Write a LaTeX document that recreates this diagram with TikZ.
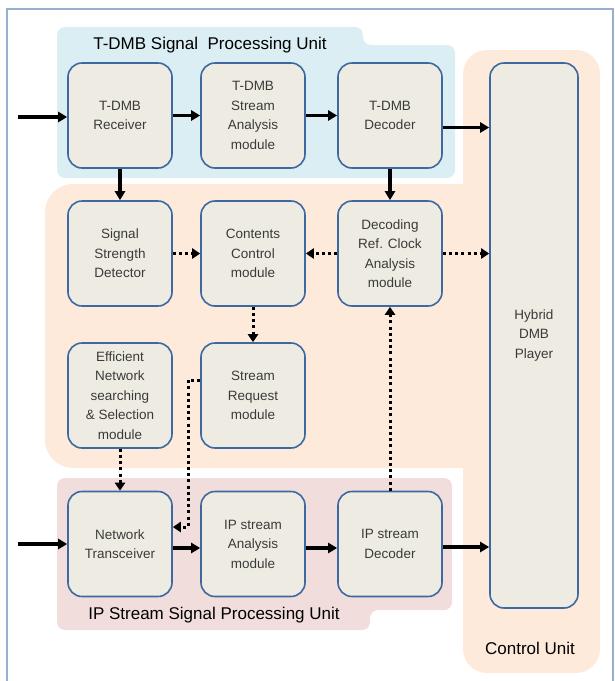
\documentclass[tikz,border=0pt]{standalone}
\usepackage{fontspec}
\setmainfont{Liberation Sans}
\usetikzlibrary{arrows.meta}
\definecolor{tdmbblue}{RGB}{218,238,244}
\definecolor{ctrlorange}{RGB}{253,234,219}
\definecolor{ippink}{RGB}{242,221,221}
\definecolor{modfill}{RGB}{238,236,226}
\definecolor{modedge}{RGB}{62,104,160}
\definecolor{framecol}{RGB}{150,176,206}
\definecolor{modtext}{RGB}{58,58,58}

\begin{document}
\begin{tikzpicture}[
  x=1pt, y=-1pt,
  every node/.style={font=\fontsize{13.5}{19.5}\selectfont},
  module/.style={rectangle, rounded corners=14pt, fill=modfill, draw=modedge,
    line width=1.6pt, minimum width=104pt, minimum height=105pt,
    inner sep=1pt, align=center, text=modtext},
  unittitle/.style={font=\fontsize{17}{20}\selectfont, text=black},
  sigflow/.style={-{Triangle[length=9pt,width=10pt]}, line width=3.2pt, black},
  ctlflow/.style={-{Triangle[length=8pt,width=10pt]}, line width=3pt, black,
    dash pattern=on 3pt off 3.2pt}
]
\useasboundingbox (0,0) rectangle (615,681);

% Unit backgrounds.
\fill[ctrlorange, rounded corners=24pt] (463,50) rectangle (600,673);
\fill[ctrlorange, rounded corners=28pt]
  (45,184) -- (490,184) -- (490,468) -- (45,468) -- cycle;
\fill[tdmbblue, rounded corners=8pt]
  (57,27) -- (363,27) -- (363,45) -- (455,45) -- (455,178) -- (57,178) -- cycle;
\fill[ippink, rounded corners=8pt]
  (57,478) -- (452,478) -- (452,610) -- (370,610) -- (370,630) -- (57,630) -- cycle;
\draw[framecol, line width=1.5pt] (7,681) -- (7,9) -- (613,9) -- (613,681);

\node[unittitle] (tdmbt) at (210,45) {T-DMB Signal\ \ Processing Unit};
\node[unittitle] (ipt) at (214,615) {IP Stream Signal Processing Unit};
\node[unittitle] (ctlt) at (530,648) {Control Unit};

% Modules.
\node[module] (rx) at (120,115.5) {T-DMB\\Receiver};
\node[module] (sa) at (253,115.5) {T-DMB\\Stream\\Analysis\\module};
\node[module] (dec) at (390,115.5) {T-DMB\\Decoder};
\node[module] (ssd) at (120,253.5) {Signal\\Strength\\Detector};
\node[module] (ccm) at (253,253.5) {Contents\\Control\\module};
\node[module] (drc) at (390,253.5) {Decoding\\Ref. Clock\\Analysis\\module};
\node[module] (ens) at (120,395.5) {Efficient\\Network\\searching\\\& Selection\\module};
\node[module] (srm) at (253,395.5) {Stream\\Request\\module};
\node[module] (ntr) at (120,544) {Network\\Transceiver};
\node[module] (ipa) at (253,544) {IP stream\\Analysis\\module};
\node[module] (ipd) at (390,544) {IP stream\\Decoder};
\node[module, minimum width=88pt, minimum height=545pt] (hdp) at (534,335.5)
  {Hybrid\\DMB\\Player};

% T-DMB path.
\coordinate (tin) at (18,117);
\coordinate (decout) at ([yshift=-12pt]dec.east);
\draw[sigflow] (tin) -- (rx.west |- tin);
\draw[sigflow] (rx) -- (sa);
\draw[sigflow] (sa) -- (dec);
\draw[sigflow] (decout) -- (decout -| hdp.west);
\draw[sigflow] (rx) -- (ssd);
\draw[sigflow] (dec) -- (drc);

% Control links.
\draw[ctlflow] (ssd) -- (ccm);
\draw[ctlflow] (drc) -- (ccm);
\draw[ctlflow] (drc.east) -- (drc.east -| hdp.west);
\draw[ctlflow] (ccm) -- (srm);
\draw[ctlflow] (ens) -- (ntr);
\coordinate (sq1) at (188,380);
\coordinate (sq2) at (188,527);
\draw[ctlflow] (srm.west |- sq1) -- (sq1) -- (sq2) -- (ntr.east |- sq2);
\draw[ctlflow] (ipd) -- (drc);

% IP stream path.
\coordinate (ipin) at (18,544);
\coordinate (ntrout) at ([yshift=-4pt]ntr.east);
\coordinate (ipaout) at ([yshift=-4pt]ipa.east);
\coordinate (ipdout) at ([yshift=-3pt]ipd.east);
\draw[sigflow] (ipin) -- (ntr.west |- ipin);
\draw[sigflow] (ntrout) -- (ntrout -| ipa.west);
\draw[sigflow] (ipaout) -- (ipaout -| ipd.west);
\draw[sigflow] (ipdout) -- (ipdout -| hdp.west);
\end{tikzpicture}
\end{document}
